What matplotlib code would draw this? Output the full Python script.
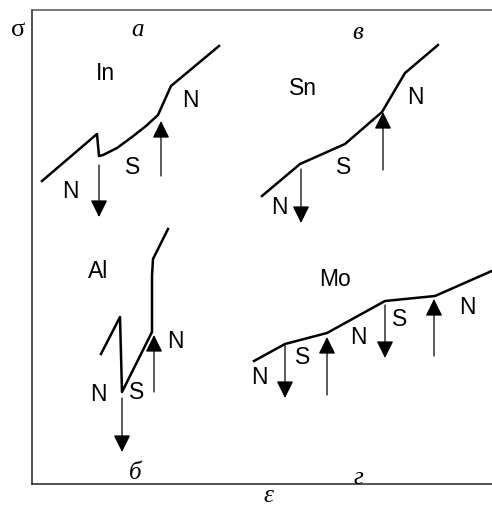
import matplotlib
matplotlib.use('Agg')
import matplotlib.pyplot as plt


# stress-strain curves, eps to the right, sigma upwards (arbitrary units)
IN_EPS = [10, 65, 67, 71, 85, 100, 114, 126, 139, 187]
IN_SIG = [303, 350, 328, 329, 336, 347, 358, 369, 398, 438]

SN_EPS = [230, 268, 313, 350, 373, 406]
SN_SIG = [288, 320, 340, 372, 411, 439]

AL_EPS = [69, 88, 90, 120, 120, 121, 126, 136]
AL_SIG = [130, 167, 92, 152, 208, 225, 235, 255]

MO_EPS = [222, 253, 295, 353, 403, 462]
MO_SIG = [123, 140, 151, 183, 188, 214]

# N->S / S->N transitions: (eps, sigma start, sigma tip)
ARROWS = [
    (67, 319, 267), (129, 308, 363),
    (269, 315, 261), (351, 314, 372),
    (90, 86, 32), (122, 92, 149),
    (253, 140, 86), (295, 89, 147), (353, 179, 126), (402, 128, 185),
]

# state and metal labels: (text, eps, sigma)
STATE_LABELS = [
    ('N', 38, 293), ('S', 101, 317), ('N', 158, 385),
    ('N', 247, 278), ('S', 312, 317), ('N', 383, 388),
    ('N', 66, 90), ('S', 105, 92), ('N', 143, 143),
    ('N', 227, 107), ('S', 271, 128), ('N', 326, 147), ('S', 368, 165), ('N', 435, 178),
]
METALS = [('In', 73, 412), ('Sn', 271, 397), ('Al', 66, 213), ('Mo', 303, 205)]
PANELS = [('а', 105, 455), ('в', 326, 452), ('б', 103, 12), ('г', 326, 7)]


fig = plt.figure(figsize=(4.92, 5.06), dpi=100)
ax = fig.add_axes([32 / 492, 21 / 506, 460 / 492, 474 / 506])
ax.set_xlim(0, 460)
ax.set_ylim(0, 474)
ax.set_xticks([])
ax.set_yticks([])
ax.spines['right'].set_visible(False)
for side in ['left', 'bottom']:
    ax.spines[side].set_linewidth(1.1)
    ax.spines[side].set_color('#222222')
ax.spines['top'].set_linewidth(1.1)
ax.spines['top'].set_color('#555555')

for eps, sig in [(IN_EPS, IN_SIG), (SN_EPS, SN_SIG), (AL_EPS, AL_SIG), (MO_EPS, MO_SIG)]:
    ax.plot(eps, sig, color='black', lw=1.8, solid_joinstyle='round', clip_on=True)

for x, y0, y1 in ARROWS:
    ax.annotate('', xy=(x, y1), xytext=(x, y0),
                arrowprops=dict(arrowstyle='-|>,head_length=10.5,head_width=5.2',
                                mutation_scale=1, lw=0.9, color='black',
                                shrinkA=0, shrinkB=0))

sans = ['Liberation Sans', 'DejaVu Sans']
serif = ['Liberation Serif', 'DejaVu Serif']
for txt, x, y in STATE_LABELS + METALS:
    ax.text(x, y, txt, ha='center', va='center', fontsize=16.5, family=sans)
for txt, x, y in PANELS:
    ax.text(x, y, txt, ha='center', va='center', fontsize=18, family=serif, style='italic')

ax.text(-14, 455, 'σ', ha='center', va='center', fontsize=19, family=serif, clip_on=False)
ax.text(236, -11, 'ε', ha='center', va='center', fontsize=18, family=serif,
        style='italic', clip_on=False)

fig.savefig('out.png', dpi=100)
